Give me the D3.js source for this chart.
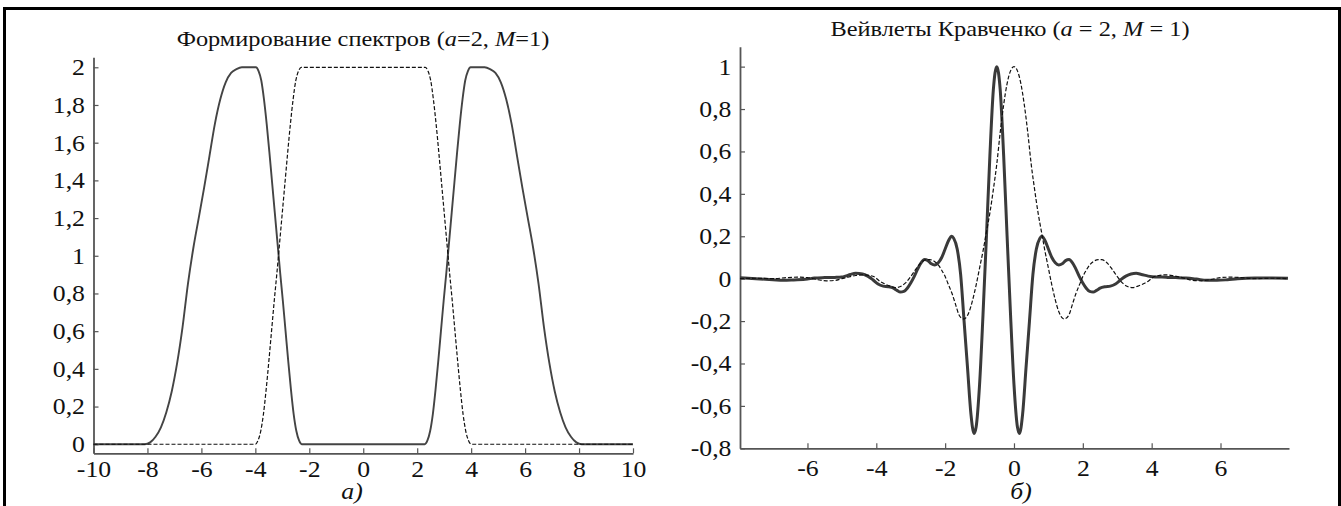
<!DOCTYPE html>
<html><head><meta charset="utf-8">
<script src="https://cdn.jsdelivr.net/npm/d3@7"></script>
<style>
body{margin:0;background:#fff}
svg{display:block}
</style>
</head><body>
<svg id="c" width="1341" height="506"></svg>
<script>
// ---- Panel a) spectra ----
const specXTicks = [-10,-8,-6,-4,-2,0,2,4,6,8,10];
const specYTicks = [0,0.2,0.4,0.6,0.8,1,1.2,1.4,1.6,1.8,2];
const specSolidX = [-10,-8.1,-7.9,-7.7,-7.5,-7.3,-7.1,-6.9,-6.7,-6.5,-6.3,-6.1,-5.9,-5.7,-5.5,-5.3,-5.1,-4.9,-4.7,-4.5,-4.2,-3.98,-3.88,-3.78,-3.68,-3.58,-3.48,-3.38,-3.28,-3.18,-3.08,-2.98,-2.88,-2.78,-2.68,-2.58,-2.48,-2.38,-2.28,
  2.28,2.38,2.48,2.58,2.68,2.78,2.88,2.98,3.08,3.18,3.28,3.38,3.48,3.58,3.68,3.78,3.88,3.98,4.2,4.5,4.7,4.9,5.1,5.3,5.5,5.7,5.9,6.1,6.3,6.5,6.7,6.9,7.1,7.3,7.5,7.7,7.9,8.1,10];
const specSolidY = [0,0,0.01,0.04,0.09,0.17,0.28,0.43,0.62,0.85,1.04,1.2,1.36,1.53,1.7,1.83,1.92,1.97,1.99,2.0,2.0,2.0,1.98,1.93,1.83,1.7,1.55,1.39,1.23,1.07,0.91,0.76,0.6,0.44,0.29,0.16,0.07,0.02,0,
  0,0.02,0.07,0.16,0.29,0.44,0.6,0.76,0.91,1.07,1.23,1.39,1.55,1.7,1.83,1.93,1.98,2.0,2.0,2.0,1.99,1.97,1.92,1.83,1.7,1.53,1.36,1.2,1.04,0.85,0.62,0.43,0.28,0.17,0.09,0.04,0.01,0,0];
const specDashX = [-10,-4.0,-3.9,-3.8,-3.7,-3.6,-3.5,-3.4,-3.3,-3.2,-3.1,-3.0,-2.9,-2.8,-2.7,-2.6,-2.5,-2.4,-2.3,
  2.3,2.4,2.5,2.6,2.7,2.8,2.9,3.0,3.1,3.2,3.3,3.4,3.5,3.6,3.7,3.8,3.9,4.0,10];
const specDashY = [0,0,0.02,0.07,0.16,0.29,0.44,0.6,0.76,0.91,1.07,1.23,1.39,1.55,1.7,1.83,1.93,1.98,2.0,
  2.0,1.98,1.93,1.83,1.7,1.55,1.39,1.23,1.07,0.91,0.76,0.6,0.44,0.29,0.16,0.07,0.02,0,0];

// ---- Panel б) wavelets ----
const wavXTicks = [-6,-4,-2,0,2,4,6];
const wavYTicks = [-0.8,-0.6,-0.4,-0.2,0,0.2,0.4,0.6,0.8,1];
const wavSolidX = [-7.96,-7.5,-7.0,-6.7,-6.4,-6.0,-5.8,-5.5,-5.2,-5.0,-4.9,-4.75,-4.6,-4.4,-4.25,-4.1,-3.95,-3.8,-3.65,-3.5,-3.4,-3.3,-3.2,-3.1,-3.0,-2.9,-2.8,-2.7,-2.6,-2.5,-2.4,-2.3,-2.2,-2.1,-2.0,-1.9,-1.81,-1.75,-1.65,-1.55,-1.45,-1.35,-1.25,-1.16,-1.1,-1.0,-0.9,-0.8,-0.7,-0.6,-0.5,
  -0.4,-0.3,-0.2,-0.1,0.0,0.1,0.16,0.25,0.35,0.45,0.55,0.65,0.75,0.81,0.9,1.0,1.1,1.2,1.3,1.4,1.5,1.6,1.7,1.8,1.9,2.0,2.1,2.2,2.3,2.4,2.5,2.65,2.8,2.95,3.1,3.25,3.4,3.55,3.7,3.9,4.1,4.3,4.5,4.7,5.0,5.3,5.6,5.9,6.2,6.5,7.0,7.5,7.96];
const wavSolidY = [0.004,0.0,-0.005,-0.008,-0.006,-0.002,0.003,0.005,0.006,0.008,0.012,0.02,0.025,0.022,0.012,-0.005,-0.025,-0.035,-0.038,-0.045,-0.055,-0.063,-0.06,-0.045,-0.02,0.01,0.045,0.075,0.09,0.085,0.07,0.065,0.075,0.1,0.14,0.18,0.2,0.19,0.14,0.02,-0.2,-0.42,-0.64,-0.73,-0.7,-0.5,-0.17,0.2,0.58,0.89,1.0,
  0.89,0.58,0.2,-0.17,-0.5,-0.7,-0.73,-0.64,-0.42,-0.2,0.02,0.14,0.19,0.2,0.18,0.14,0.1,0.075,0.065,0.07,0.085,0.09,0.075,0.045,0.01,-0.02,-0.045,-0.06,-0.063,-0.055,-0.045,-0.038,-0.035,-0.025,-0.005,0.012,0.022,0.025,0.02,0.012,0.008,0.008,0.006,0.005,0.003,-0.002,-0.008,-0.008,-0.005,0.0,0.003,0.003,0.002];
const wavDashX = [-7.96,-7.5,-7.0,-6.6,-6.3,-6.0,-5.7,-5.45,-5.2,-5.0,-4.8,-4.6,-4.4,-4.2,-4.05,-3.9,-3.75,-3.6,-3.45,-3.3,-3.15,-3.0,-2.85,-2.7,-2.55,-2.45,-2.3,-2.2,-2.1,-2.0,-1.9,-1.8,-1.7,-1.6,-1.5,-1.45,-1.4,-1.3,-1.2,-1.1,-1.0,-0.9,-0.8,-0.7,-0.6,-0.5,-0.4,-0.3,-0.2,-0.1,0,
  0.1,0.2,0.3,0.4,0.5,0.6,0.7,0.8,0.9,1.0,1.1,1.2,1.3,1.4,1.45,1.5,1.6,1.7,1.8,1.9,2.0,2.1,2.2,2.3,2.45,2.55,2.7,2.85,3.0,3.15,3.3,3.45,3.6,3.75,3.9,4.05,4.2,4.4,4.6,4.8,5.0,5.2,5.45,5.7,6.0,6.3,6.6,7.0,7.5,7.96];
const wavDashY = [0.0,0.002,0.0,0.005,0.007,0.005,-0.005,-0.01,-0.008,0.0,0.008,0.015,0.018,0.015,0.008,-0.012,-0.025,-0.035,-0.042,-0.037,-0.02,0.01,0.045,0.075,0.09,0.09,0.08,0.065,0.04,0.01,-0.03,-0.07,-0.12,-0.17,-0.188,-0.19,-0.185,-0.155,-0.1,-0.03,0.05,0.13,0.22,0.31,0.42,0.54,0.69,0.82,0.92,0.98,1.0,
  0.98,0.92,0.82,0.69,0.54,0.42,0.31,0.22,0.13,0.05,-0.03,-0.1,-0.155,-0.185,-0.19,-0.188,-0.17,-0.12,-0.07,-0.03,0.01,0.04,0.065,0.08,0.09,0.09,0.075,0.045,0.01,-0.02,-0.037,-0.042,-0.035,-0.025,-0.012,0.008,0.015,0.018,0.015,0.008,0.0,-0.008,-0.01,-0.005,0.005,0.007,0.005,0.0,0.002,0.0];

const svg = d3.select("#c");
const FONT = '"Liberation Serif","Times New Roman","DejaVu Serif",serif';
const TFS = 21, TSX = 1.16;   // titles
const LFS = 23, LSX = 1.12;   // tick labels and panel letters
const fmt = d => String(Math.round(d*10)/10).replace(".", ",");

// frame
svg.append("path").attr("d","M4.5,506 L4.5,8.5 L1339.5,8.5 L1339.5,506")
  .attr("fill","none").attr("stroke","#000").attr("stroke-width",3);

function styleText(sel, fs){
  sel.style("font-family",FONT).style("font-size",fs+"px").style("fill","#111");
}

function panel(o){
  const x = d3.scaleLinear().domain(o.xDom).range([o.x0, o.x1]);
  const y = d3.scaleLinear().domain(o.yDom).range([o.y0, o.y1]);
  const g = svg.append("g");
  const xa = g.append("g").attr("transform",`translate(0,${o.y0})`)
    .call(d3.axisBottom(x).tickValues(o.xTicks).tickSizeInner(-5).tickSizeOuter(0).tickPadding(o.xPad).tickFormat(fmt));
  const ya = g.append("g").attr("transform",`translate(${o.x0},0)`)
    .call(d3.axisLeft(y).tickValues(o.yTicks).tickSizeInner(-5).tickSizeOuter(0).tickPadding(7.6).tickFormat(fmt));
  [xa, ya].forEach(a=>{
    a.select(".domain").attr("stroke","#555").attr("stroke-width",1.8);
    a.selectAll(".tick line").attr("stroke","#555").attr("stroke-width",1.2);
    const tt = a.selectAll(".tick text");
    styleText(tt, LFS);
    tt.attr("transform",`scale(${LSX},1)`);
  });
  const line = d3.line().x(d=>x(d[0])).y(d=>y(d[1])).curve(d3.curveMonotoneX);
  g.append("path").datum(d3.zip(o.sX, o.sY)).attr("d", line)
    .attr("fill","none").attr("stroke",o.sColor).attr("stroke-width",o.sWidth).attr("stroke-linejoin","round");
  g.append("path").datum(d3.zip(o.dX, o.dY)).attr("d", line)
    .attr("fill","none").attr("stroke","#111").attr("stroke-width",1.2).attr("stroke-dasharray","4,2");
  const t = g.append("text").attr("transform",`translate(${o.titleX},${o.titleY}) scale(${TSX},1)`)
    .attr("text-anchor","middle");
  styleText(t, TFS);
  o.title.forEach(p=>t.append("tspan").style("font-style",p[1]?"italic":"normal").text(p[0]));
  const s = g.append("text").attr("transform",`translate(${o.subX},499) scale(${LSX},1)`)
    .attr("text-anchor","middle").style("font-style","italic").text(o.sub);
  styleText(s, LFS);
}

panel({xDom:[-10,10], yDom:[-0.048,2.053], x0:93.5, x1:633, y0:453.3, y1:57.3,
  xTicks:specXTicks, yTicks:specYTicks, xPad:7.4,
  sX:specSolidX, sY:specSolidY, dX:specDashX, dY:specDashY, sColor:"#444", sWidth:1.9,
  title:[["Формирование спектров (",0],["a",1],["=2, ",0],["M",1],["=1)",0]], titleX:363, titleY:46,
  sub:"а)", subX:352});

panel({xDom:[-7.96,7.99], yDom:[-0.8,1.094], x0:740, x1:1289, y0:448.3, y1:46.7,
  xTicks:wavXTicks, yTicks:wavYTicks, xPad:11.4,
  sX:wavSolidX, sY:wavSolidY, dX:wavDashX, dY:wavDashY, sColor:"#3a3a3a", sWidth:3,
  title:[["Вейвлеты Кравченко (",0],["a",1],[" = 2, ",0],["M",1],[" = 1)",0]], titleX:1010, titleY:36,
  sub:"б)", subX:1021});
</script>
</body></html>
